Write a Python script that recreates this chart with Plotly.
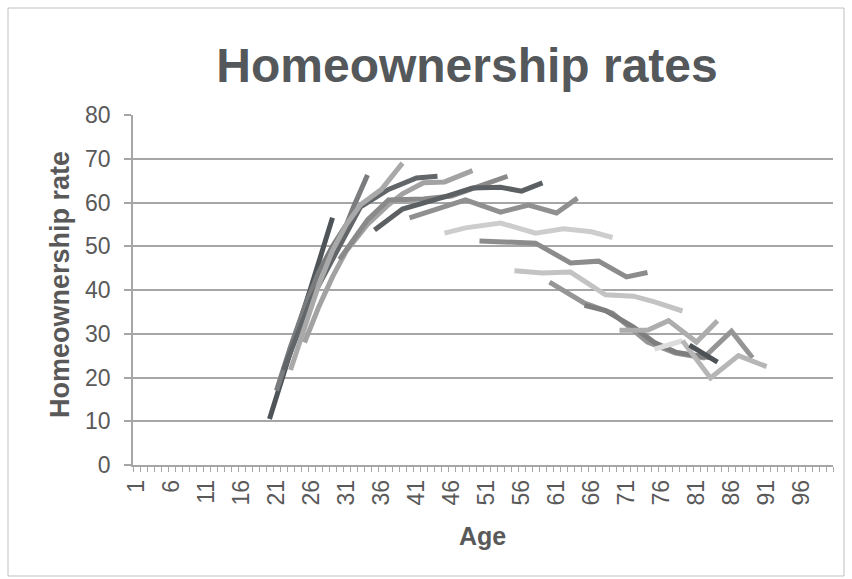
import plotly.graph_objects as go

# ---- data: homeownership rate (%) by age, one series per cohort ----
age_a = [20, 22, 24, 26, 28, 29]
rate_a = [10.5, 21, 31, 41, 52, 56.5]
age_b = [21, 23, 25, 27, 29, 31, 32, 34]
rate_b = [17, 27, 36, 44, 50, 55, 59, 66.3]
age_c = [22, 24, 26, 28, 30, 32, 33, 37, 41, 44]
rate_c = [21.7, 30, 38, 44, 50, 56, 59, 63, 65.6, 66]
age_d = [23, 25, 27, 29, 31, 33, 36, 39]
rate_d = [21.7, 31, 41, 49, 55, 59.5, 63, 69]
age_e = [25, 27, 29, 31, 34, 37, 39, 42, 45, 49]
rate_e = [28, 36, 43, 49, 55, 59.5, 62, 64.5, 64.7, 67.3]
age_f = [30, 32, 34, 37, 42, 46, 49, 51, 54]
rate_f = [47, 51.5, 56, 60.6, 60.8, 61.5, 63.3, 64.2, 66]
age_g = [35, 39, 45, 49, 53, 56, 59]
rate_g = [53.7, 58.5, 61.3, 63.3, 63.5, 62.6, 64.5]
age_h = [40, 44, 48, 53, 57, 61, 64]
rate_h = [56.5, 58.5, 60.6, 57.8, 59.4, 57.6, 61]
age_i = [45, 48, 53, 58, 62, 66, 69]
rate_i = [53, 54.2, 55.3, 53, 54, 53.3, 52]
age_j = [50, 53, 58, 63, 67, 71, 74]
rate_j = [51.2, 51, 50.7, 46.2, 46.6, 43, 44]
age_k = [55, 59, 63, 68, 72, 75, 79]
rate_k = [44.4, 43.9, 44.1, 38.9, 38.6, 37.3, 35.2]
age_l = [60, 65, 69, 74, 78, 82, 86, 89]
rate_l = [41.8, 37, 34.7, 28.1, 25.6, 24.5, 30.6, 24.5]
age_m = [65, 68, 72, 75, 78, 81, 83]
rate_m = [36.5, 35.3, 31.5, 28, 25.8, 25, 24.5]
age_n = [70, 74, 77, 81, 84]
rate_n = [30.8, 30.8, 33, 28.1, 33]
age_o = [75, 79]
rate_o = [26.5, 28.4]
age_p = [79, 83, 87, 91]
rate_p = [28.4, 19.9, 25, 22.5]
age_q = [80, 84]
rate_q = [27.4, 23.5]

ages = list(range(1, 101))
tick_ages = [str(a) for a in range(1, 100, 5)]
y_ticks = [0, 10, 20, 30, 40, 50, 60, 70, 80]

series = [
    (age_a, rate_a, "#4f5458"),
    (age_b, rate_b, "#7a7c7e"),
    (age_c, rate_c, "#626669"),
    (age_d, rate_d, "#a9a9a9"),
    (age_e, rate_e, "#a2a2a2"),
    (age_f, rate_f, "#8a8a8a"),
    (age_g, rate_g, "#5c6063"),
    (age_h, rate_h, "#909090"),
    (age_i, rate_i, "#cdcdcd"),
    (age_j, rate_j, "#8c8c8c"),
    (age_k, rate_k, "#c3c3c3"),
    (age_l, rate_l, "#959595"),
    (age_m, rate_m, "#7e7e7e"),
    (age_n, rate_n, "#adadad"),
    (age_o, rate_o, "#dcdcdc"),
    (age_p, rate_p, "#b6b6b6"),
    (age_q, rate_q, "#4d5256"),
]

fig = go.Figure()
for xs, ys, col in series:
    fig.add_trace(go.Scatter(x=xs, y=ys, mode="lines",
                             line=dict(color=col, width=5),
                             showlegend=False, hoverinfo="skip"))

txt = "#595959"
fig.update_layout(
    width=852, height=579,
    margin=dict(l=133, r=19, t=115, b=114),
    paper_bgcolor="white", plot_bgcolor="white",
    font=dict(family="Liberation Sans, Arial, sans-serif", color=txt),
    title=dict(text="<b>Homeownership rates</b>", x=(467 - 0) / 852,
               xanchor="center", y=1 - 65 / 579, yanchor="middle",
               font=dict(size=48, color="#54585b")),
    xaxis=dict(range=[0.5, 100.5], tickmode="array",
               tickvals=[int(t) for t in tick_ages], ticktext=tick_ages,
               tickangle=-90, tickfont=dict(size=23, color=txt),
               ticks="", showgrid=False, zeroline=False,
               ticklabelstandoff=4,
               showline=True, linecolor="#a6a6a6", linewidth=1.5,
               minor=dict(tickmode="array",
                          tickvals=[a - 0.5 for a in ages] + [100.5],
                          ticks="outside", ticklen=5, tickcolor="#a6a6a6",
                          tickwidth=1, showgrid=False)),
    yaxis=dict(range=[0, 80], tickvals=y_ticks,
               tickfont=dict(size=23, color=txt),
               ticks="outside", ticklen=7, tickcolor="#a6a6a6", tickwidth=1.5,
               ticklabelstandoff=9,
               showgrid=True, gridcolor="#a6a6a6", gridwidth=1.5,
               zeroline=False, showline=True, linecolor="#a6a6a6",
               linewidth=1.5),
    annotations=[
        dict(text="<b>Age</b>", xref="paper", yref="paper",
             x=(482 - 133) / 700, y=(465 - 536) / 350,
             xanchor="center", yanchor="middle", showarrow=False,
             font=dict(size=25, color=txt)),
        dict(text="<b>Homeownership rate</b>", xref="paper", yref="paper",
             x=(60 - 133) / 700, y=(465 - 285) / 350, textangle=-90,
             xanchor="center", yanchor="middle", showarrow=False,
             font=dict(size=27, color=txt)),
    ],
    shapes=[dict(type="rect", xref="paper", yref="paper",
                 x0=(8 - 133) / 700, x1=(844 - 133) / 700,
                 y0=(465 - 576) / 350, y1=(465 - 8) / 350,
                 line=dict(color="#bfbfbf", width=1), layer="below")],
)

fig.write_html("out.html")
